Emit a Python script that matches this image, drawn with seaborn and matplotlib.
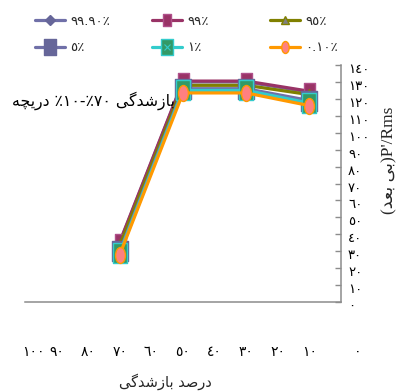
import numpy as np
import pandas as pd
import seaborn as sns
import matplotlib
matplotlib.use("Agg")
import matplotlib.pyplot as plt
from matplotlib.path import Path
from matplotlib.transforms import Affine2D, ScaledTranslation
from matplotlib.legend_handler import HandlerTuple

# ---------------- data ----------------
opening = [70, 50, 30, 10]
p999 = [35, 130, 130, 124]
p99 = [35.5, 130.5, 130.5, 124.5]
p95 = [33.5, 128, 128, 122.5]
p5 = [30, 126, 126, 119]
p1 = [29, 125, 125, 117.5]
p01 = [28, 123.5, 123.5, 116]
series_labels = ["٩٩.٩٠٪", "٩٩٪", "٩٥٪", "٥٪", "١٪", "٠.١٠٪"]
x_ticks = list(range(0, 101, 10))
y_ticks = list(range(0, 141, 10))

# Persian text written in visual (left-to-right) order with presentation forms
w_bazshodegi = "\uFBFD\uFB94\uFEAA\uFEB7\uFEAF\uFE8E\uFE91"   # بازشدگی
w_dariche = "\uFEEA\uFB7D\uFBFE\uFEAD\uFEA9"                  # دریچه
w_darsad = "\uFEAA\uFEBB\uFEAD\uFEA9"                         # درصد
w_bi = "\uFBFD\uFE91"                                         # بی
w_bad = "\uFEAA\uFECC\uFE91"                                  # بعد
annot_text = w_dariche + " ٪١٠-٪٧٠ " + w_bazshodegi
xlabel_text = w_bazshodegi + " " + w_darsad
ylabel_text = "(" + w_bad + " " + w_bi + ")P'/Rms"

def fa(n):
    return str(n).translate(str.maketrans("0123456789", "٠١٢٣٤٥٦٧٨٩"))

# ---------------- style ----------------
sns.set_style("white")
plt.rcParams["font.family"] = ["DejaVu Sans"]

def rect_marker(w):
    return Path([(-w, -1), (w, -1), (w, 1), (-w, 1), (-w, -1)],
                [Path.MOVETO, Path.LINETO, Path.LINETO, Path.LINETO, Path.CLOSEPOLY])

ellipse = Path.unit_circle().transformed(Affine2D().scale(0.62, 1.0))

fig = plt.figure(figsize=(4.01, 3.91), dpi=100)
ax = fig.add_axes([25 / 401, 1 - 302 / 391, (341 - 25) / 401, (302 - 65) / 391])

series = [
    (p999, series_labels[0], dict(color="#7070A8", marker="D", markersize=7,
                                  markerfacecolor="#666699", markeredgecolor="#666699")),
    (p99, series_labels[1], dict(color="#993366", marker=rect_marker(0.72), markersize=11,
                                 markerfacecolor="#993366", markeredgecolor="#B0508A")),
    (p95, series_labels[2], dict(color="#808000", marker="^", markersize=8,
                                 markerfacecolor="#808080", markeredgecolor="#808000")),
    (p5, series_labels[3], dict(color="#7070A8", marker=rect_marker(0.78), markersize=15,
                                markerfacecolor="#666699", markeredgecolor="#666699")),
    (p1, series_labels[4], dict(color="#33CCCC", marker=rect_marker(0.74), markersize=14.5,
                                markerfacecolor="#339966", markeredgecolor="#33CCCC")),
    (p01, series_labels[5], dict(color="#FF9900", marker=ellipse, markersize=11.5,
                                 markerfacecolor="#FF8080", markeredgecolor="#FF9900")),
]

handles = []
for vals, lab, kw in series:
    df = pd.DataFrame({"x": opening, "y": vals})
    before = len(ax.lines)
    sns.lineplot(data=df, x="x", y="y", ax=ax, linewidth=2.3, markeredgewidth=1.0,
                 label=lab, legend=False, **kw)
    h = ax.lines[before]
    if lab == series_labels[4]:
        sns.lineplot(data=df, x="x", y="y", ax=ax, linestyle="none", marker="x",
                     markersize=5, markeredgewidth=0.8, color="#33CCCC",
                     markeredgecolor="#33CCCC", legend=False)
        h = (h, ax.lines[-1])
    handles.append(h)

ax.set_xlim(100, 0)
ax.set_ylim(0, 140)
ax.set_xticks(x_ticks)
ax.set_xticklabels([fa(v) for v in x_ticks])
ax.set_yticks(y_ticks)
ax.set_yticklabels([fa(v) for v in y_ticks])
ax.yaxis.tick_right()
ax.set_xlabel("")
ax.set_ylabel("")

for s in ["left", "top"]:
    ax.spines[s].set_visible(False)
for s in ["right", "bottom"]:
    ax.spines[s].set_color("#8C8C8C")
    ax.spines[s].set_linewidth(1.1)

ax.tick_params(axis="x", direction="out", length=4, width=1, color="#8C8C8C",
               pad=27, labelsize=10, labelcolor="black")
ax.tick_params(axis="y", direction="in", length=4, width=1, color="#8C8C8C",
               pad=5, labelsize=9.5, labelcolor="black", left=False, right=True)

# small label offsets as in reference
for lab in ax.get_yticklabels():
    lab.set_transform(lab.get_transform() + ScaledTranslation(0, -3 / 100, fig.dpi_scale_trans))
xl = ax.get_xticklabels()
xl[0].set_transform(xl[0].get_transform() + ScaledTranslation(17 / 100, 0, fig.dpi_scale_trans))
xl[-1].set_transform(xl[-1].get_transform() + ScaledTranslation(8 / 100, 0, fig.dpi_scale_trans))

# annotation
ax.annotate(annot_text, xy=(50, 118.7), xytext=(-6, 0), textcoords="offset points",
            ha="right", va="center", fontsize=11.3, color="black")

# axis titles
fig.text(165 / 401, 1 - 382 / 391, xlabel_text, ha="center", va="center", fontsize=10.5)
fig.text(389 / 401, 1 - 160 / 391, ylabel_text, ha="center", va="center", rotation=90,
         fontsize=12.5, family=["Liberation Serif", "DejaVu Sans"])

# legends (three columns)
col_x = [35, 152, 270]
order = [(0, 3), (1, 4), (2, 5)]
for cx, (a, b) in zip(col_x, order):
    leg = fig.legend([handles[a], handles[b]], [series_labels[a], series_labels[b]],
                     loc="upper left", bbox_to_anchor=(cx / 401, 1 - 15 / 391),
                     frameon=False, fontsize=9.5, handlelength=2.3, handletextpad=0.35,
                     borderpad=0, borderaxespad=0, labelspacing=1.0, markerscale=0.75,
                     handler_map={tuple: HandlerTuple(ndivide=1, pad=0)})

fig.savefig("out.png", dpi=100, facecolor="white")
